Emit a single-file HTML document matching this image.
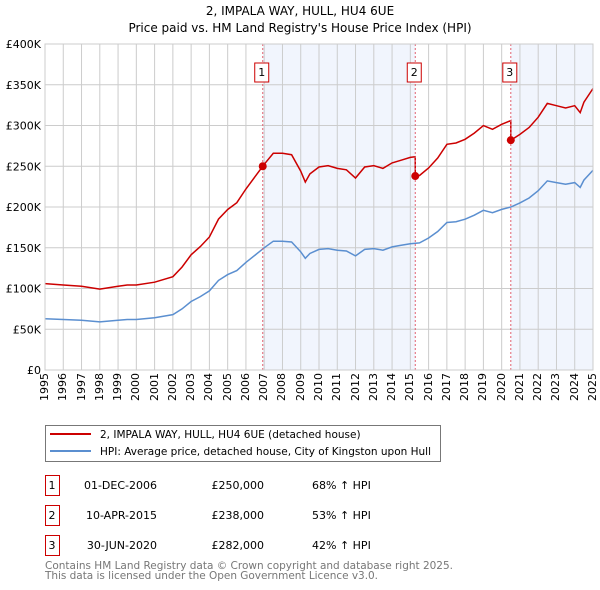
<!DOCTYPE html>
<html><head><meta charset="utf-8"><style>
body{margin:0;background:#fff;font-family:"DejaVu Sans","Liberation Sans",sans-serif;position:relative;width:600px;height:590px;overflow:hidden}
svg{display:block;position:absolute;left:0;top:0}
.xl{position:absolute;width:40px;height:12px;line-height:12px;font-size:11px;text-align:right;transform-origin:0 0;transform:rotate(-90deg);white-space:nowrap;color:#000}
</style></head><body>
<svg id="c" width="600" height="590" xmlns="http://www.w3.org/2000/svg" font-family="DejaVu Sans, Liberation Sans, sans-serif">
<text x="300" y="15" text-anchor="middle" font-size="12">2, IMPALA WAY, HULL, HU4 6UE</text>
<text x="300" y="32" text-anchor="middle" font-size="12">Price paid vs. HM Land Registry's House Price Index (HPI)</text>
<g id="plot"></g>
<g>
<rect x="45.5" y="425.5" width="395" height="36" fill="#fff" stroke="#777"/>
<line x1="50" y1="434" x2="91" y2="434" stroke="#cc0000" stroke-width="2"/>
<text x="100" y="438" font-size="10.5">2, IMPALA WAY, HULL, HU4 6UE (detached house)</text>
<line x1="50" y1="451" x2="91" y2="451" stroke="#5b8fd0" stroke-width="2"/>
<text x="100" y="455" font-size="10.5" textLength="331">HPI: Average price, detached house, City of Kingston upon Hull</text>
</g>
<g id="table"></g>
<text x="45" y="569" font-size="10.5" fill="#777" textLength="408">Contains HM Land Registry data © Crown copyright and database right 2025.</text>
<text x="45" y="579" font-size="10.5" fill="#777" textLength="333">This data is licensed under the Open Government Licence v3.0.</text>
</svg>
<div id="xlabels"></div>
<script>
const hpiYears=[1995,1996,1997,1998,1999,1999.5,2000,2001,2002,2002.5,2003,2003.5,2004,2004.5,2005,2005.5,2006,2006.5,2007,2007.5,2008,2008.5,2009,2009.25,2009.5,2010,2010.5,2011,2011.5,2012,2012.5,2013,2013.5,2014,2014.5,2015,2015.5,2016,2016.5,2017,2017.5,2018,2018.5,2019,2019.5,2020,2020.5,2021,2021.5,2022,2022.5,2023,2023.5,2024,2024.3,2024.5,2025];
const hpiValues=[63,62,61,59,61,62,62,64,68,75,84,90,97,110,117,122,132,141,150,158,158,157,145,137,143,148,149,147,146,140,148,149,147,151,153,155,156,162,170,181,182,185,190,196,193,197,200,205,211,220,232,230,228,230,224,233,245];
const saleDates=[2006.92,2015.27,2020.5];
const salePrices=[250,238,282];
const saleLabels=["1","2","3"];
const saleDateText=["01-DEC-2006","10-APR-2015","30-JUN-2020"];
const salePriceText=["£250,000","£238,000","£282,000"];
const saleHpiText=["68% ↑ HPI","53% ↑ HPI","42% ↑ HPI"];
const yTicks=[0,50,100,150,200,250,300,350,400];
const yTickLabels=["£0","£50K","£100K","£150K","£200K","£250K","£300K","£350K","£400K"];
const xTicks=[1995,1996,1997,1998,1999,2000,2001,2002,2003,2004,2005,2006,2007,2008,2009,2010,2011,2012,2013,2014,2015,2016,2017,2018,2019,2020,2021,2022,2023,2024,2025];

const NS="http://www.w3.org/2000/svg";
const X0=45,X1=593,Y0=370,Y1=44;
const xs=t=>X0+(t-1995)/30*(X1-X0);
const ys=v=>Y0-v/400*(Y0-Y1);
const plot=document.getElementById('plot');
const xlab=document.getElementById('xlabels');
function mk(tag,at,parent){const e=document.createElementNS(NS,tag);for(const k in at)e.setAttribute(k,at[k]);(parent||plot).appendChild(e);return e;}
function hpiAt(t){for(let i=1;i<hpiYears.length;i++){if(t<=hpiYears[i]){const f=(t-hpiYears[i-1])/(hpiYears[i]-hpiYears[i-1]);return hpiValues[i-1]+f*(hpiValues[i]-hpiValues[i-1]);}}return hpiValues[hpiValues.length-1];}
let sh=mk('rect',{x:xs(saleDates[0]),y:Y1,width:xs(saleDates[1])-xs(saleDates[0]),height:Y0-Y1,fill:'#eef3fc',opacity:0.8});


let sh2=mk('rect',{x:xs(saleDates[2]),y:Y1,width:X1-xs(saleDates[2]),height:Y0-Y1,fill:'#eef3fc',opacity:0.8});


xTicks.forEach((t,i)=>{const x=xs(t);
 const g=mk('line',{x1:x,y1:Y1,x2:x,y2:Y0,stroke:'#ccc','stroke-width':1});
 
 
 const dv=document.createElement('div');
 dv.className='xl';
 dv.style.left=(x-6)+'px';
 dv.style.top=(Y0+3+40)+'px';
 dv.textContent=t;
 
 
 xlab.appendChild(dv);
});
yTicks.forEach((v,i)=>{const y=ys(v);
 const g=mk('line',{x1:X0,y1:y,x2:X1,y2:y,stroke:'#ccc','stroke-width':1});
 
 
 const tx=mk('text',{x:X0-4,y:y+4,'font-size':11,'text-anchor':'end'});
 tx.textContent=yTickLabels[i];
 
 
});
let d='';hpiYears.forEach((t,i)=>{d+=(i?'L':'M')+xs(t).toFixed(1)+','+ys(hpiValues[i]).toFixed(1);});
const hl=mk('path',{d:d,fill:'none',stroke:'#5b8fd0','stroke-width':1.5});


let pd='';
const ratios=saleDates.map((t,i)=>salePrices[i]/hpiAt(t));
function ratioAt(t){let r=ratios[0];for(let i=0;i<saleDates.length;i++)if(t>=saleDates[i])r=ratios[i];return r;}
const pts=[];
hpiYears.forEach(t=>pts.push(t));saleDates.forEach(t=>{pts.push(t-0.001);pts.push(t);});
pts.sort((a,b)=>a-b);
pts.forEach((t,i)=>{pd+=(i?'L':'M')+xs(t).toFixed(1)+','+ys(hpiAt(t)*ratioAt(t)).toFixed(1);});
const pl=mk('path',{d:pd,fill:'none',stroke:'#cc0000','stroke-width':1.5});


saleDates.forEach((t,i)=>{const x=xs(t);
 const vl=mk('line',{x1:x,y1:Y1,x2:x,y2:Y0,stroke:'#e06070','stroke-width':1,'stroke-dasharray':'2,2'});
 
 
 const c=mk('circle',{cx:x,cy:ys(salePrices[i]),r:4,fill:'#cc0000'});
 
 
 const b=mk('rect',{x:x-8,y:63,width:14,height:19,fill:'#fff',stroke:'#cc0000'});
 
 
 const tx=mk('text',{x:x-1,y:76,'font-size':11,'text-anchor':'middle'});
 tx.textContent=saleLabels[i];
 
 
});
const fr=mk('rect',{x:X0,y:Y1,width:X1-X0,height:Y0-Y1,fill:'none',stroke:'#ccc'});


const tb=document.getElementById('table');
saleLabels.forEach((l,i)=>{const y=475+i*30;
 const r=mk('rect',{x:45.5,y:y+0.5,width:14,height:20,fill:'#fff',stroke:'#cc0000'},tb);
 
 
 const vals=[[l,52,'middle'],[saleDateText[i],157,'end'],[salePriceText[i],264,'end'],[saleHpiText[i],312,'start']];
 vals.forEach(v=>{const tx=mk('text',{x:v[1],y:y+14,'font-size':11,'text-anchor':v[2]},tb);
  tx.textContent=v[0];
  
  });
});
</script>
</body></html>
